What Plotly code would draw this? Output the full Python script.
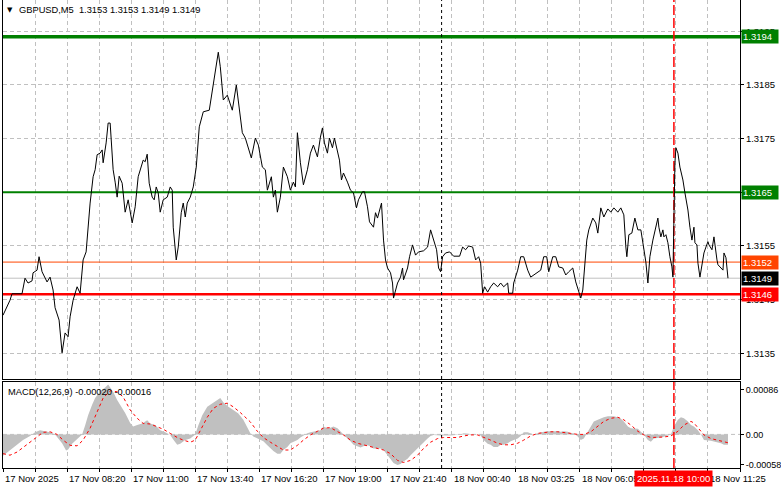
import plotly.graph_objects as go

# ---------------- data ----------------
price_bar = [0, 3.5, 4.5, 9.5, 11, 12.5, 14.5, 15, 17, 18, 19.5, 22, 23.5, 25, 26, 28, 29.5, 31, 32.5, 33.5,
             35, 37, 38.5, 40, 41.5, 42.5, 43.5, 45, 46, 47, 48.5, 49.5, 50, 51.5, 52.5, 53.5, 55, 56, 57, 58,
             59.5, 61, 62.5, 64.5, 66, 67.5, 70, 71, 72, 73, 74.5, 75.5, 76.5, 77.5, 78.5, 80, 82, 83.5, 84.5, 85,
             86.5, 87.5, 89, 90, 91, 92, 93.5, 95, 96.5, 98, 100, 103, 105, 107.5, 108.5, 110, 112, 114.5, 116.5, 117.5,
             118.5, 119.5, 121, 124, 126, 127.5, 129.5, 131, 132, 134, 135, 136, 137, 138.5, 140, 142, 143.5, 145, 146, 147,
             148.5, 150, 152, 153.5, 155, 157, 158.5, 159.5, 160.5, 162, 163, 164.5, 165.5, 167, 168, 169, 170, 172, 173.5, 175,
             176.5, 177.5, 179.5, 180.5, 182, 183, 185, 186, 187, 189, 190, 191, 192, 193.5, 194.5, 195, 197, 198.5, 199.5, 200,
             202, 203, 204.5, 206, 207.5, 210, 212, 213.5, 215, 216.5, 217.5, 218.5, 219.5, 221, 223, 225, 228, 229.5, 231, 232.5,
             234.5, 236, 237.5, 238.5, 239.5, 240.5, 242, 243.5, 245, 247, 248.5, 250, 252, 252.5, 254.5, 255, 257, 258.5, 260, 262,
             263.5, 265, 267, 268.5, 270, 271.5, 272.5, 274.5, 276, 277.5, 279.5, 281, 282.5, 284.5, 286, 287.5, 288.5, 289.5, 290.5, 291.5,
             292.5, 294.5, 296, 297, 298.5, 300, 302, 303.5, 305, 307, 308.5, 310, 311, 311.5, 312.5, 314, 315.5, 317, 318.5, 320,
             321, 322, 323, 324.5, 325.5, 327, 327.5, 328.5, 329.5, 330, 331, 332, 333, 334, 334.5, 335, 335.5, 336, 337, 338,
             339.5, 340.5, 342, 343, 344, 345, 345.5, 346.5, 347, 348, 349, 350, 351, 352, 352.5, 354, 355, 355.5, 356.5, 357,
             358.5, 359.5, 360, 361, 362]
price_close = [1.31421, 1.31449, 1.31461, 1.31461, 1.31490, 1.31481, 1.31485, 1.31500, 1.31505, 1.31530, 1.31502, 1.31483, 1.31492, 1.31468, 1.31435, 1.31412, 1.31351, 1.31388, 1.31381, 1.31418,
               1.31449, 1.31474, 1.31462, 1.31524, 1.31539, 1.31585, 1.31630, 1.31679, 1.31692, 1.31720, 1.31723, 1.31729, 1.31705, 1.31742, 1.31779, 1.31779, 1.31692, 1.31669, 1.31641, 1.31680,
               1.31667, 1.31613, 1.31636, 1.31593, 1.31623, 1.31679, 1.31710, 1.31707, 1.31721, 1.31667, 1.31641, 1.31636, 1.31660, 1.31649, 1.31613, 1.31636, 1.31641, 1.31660, 1.31654, 1.31585,
               1.31524, 1.31548, 1.31612, 1.31630, 1.31604, 1.31630, 1.31641, 1.31660, 1.31697, 1.31772, 1.31800, 1.31803, 1.31854, 1.31911, 1.31884, 1.31822, 1.31831, 1.31803, 1.31850, 1.31822,
               1.31790, 1.31761, 1.31751, 1.31714, 1.31751, 1.31738, 1.31697, 1.31692, 1.31654, 1.31679, 1.31641, 1.31654, 1.31613, 1.31641, 1.31697, 1.31679, 1.31654, 1.31669, 1.31660, 1.31761,
               1.31705, 1.31664, 1.31692, 1.31723, 1.31738, 1.31716, 1.31753, 1.31770, 1.31742, 1.31723, 1.31751, 1.31733, 1.31751, 1.31729, 1.31710, 1.31673, 1.31686, 1.31669, 1.31654, 1.31649,
               1.31621, 1.31636, 1.31651, 1.31651, 1.31623, 1.31595, 1.31585, 1.31612, 1.31602, 1.31630, 1.31561, 1.31524, 1.31509, 1.31500, 1.31481, 1.31453, 1.31481, 1.31492, 1.31509, 1.31487,
               1.31509, 1.31530, 1.31552, 1.31533, 1.31539, 1.31541, 1.31548, 1.31580, 1.31561, 1.31543, 1.31509, 1.31502, 1.31530, 1.31537, 1.31539, 1.31531, 1.31531, 1.31548, 1.31543, 1.31550,
               1.31548, 1.31524, 1.31530, 1.31518, 1.31462, 1.31474, 1.31464, 1.31474, 1.31481, 1.31474, 1.31481, 1.31474, 1.31481, 1.31462, 1.31462, 1.31481, 1.31505, 1.31530, 1.31530, 1.31505,
               1.31492, 1.31496, 1.31500, 1.31505, 1.31530, 1.31530, 1.31502, 1.31530, 1.31530, 1.31511, 1.31509, 1.31496, 1.31502, 1.31509, 1.31483, 1.31464, 1.31453, 1.31468, 1.31511, 1.31561,
               1.31580, 1.31602, 1.31593, 1.31574, 1.31621, 1.31604, 1.31619, 1.31613, 1.31621, 1.31613, 1.31621, 1.31608, 1.31548, 1.31530, 1.31571, 1.31574, 1.31602, 1.31580, 1.31580, 1.31548,
               1.31520, 1.31481, 1.31530, 1.31561, 1.31580, 1.31602, 1.31585, 1.31567, 1.31580, 1.31567, 1.31571, 1.31556, 1.31530, 1.31511, 1.31492, 1.31612, 1.31705, 1.31733, 1.31723, 1.31697,
               1.31673, 1.31649, 1.31617, 1.31585, 1.31561, 1.31585, 1.31556, 1.31552, 1.31518, 1.31492, 1.31515, 1.31537, 1.31548, 1.31558, 1.31552, 1.31543, 1.31567, 1.31548, 1.31524, 1.31515,
               1.31509, 1.31505, 1.31537, 1.31528, 1.31490]

hist_bar = [0, 3.5, 7, 10, 13.5, 16, 18.5, 21, 23.5, 26, 27.5, 29.5, 31.5, 32.5, 34.5, 37, 39.5, 41, 42.5, 44.5,
            46, 48.5, 51, 52.5, 55, 57, 58.5, 61, 63.5, 65, 67, 69.5, 72, 73.5, 76, 78.5, 81, 83.5, 85, 87,
            88.5, 91, 93.5, 96, 97.5, 99.5, 102, 104.5, 107, 108.5, 110, 112.5, 115, 117.5, 120, 122, 123.5, 125, 127, 130,
            132, 133.5, 135, 137, 138.5, 140, 142, 143.5, 145, 147, 148.5, 150, 152, 153.5, 155, 157, 158.5, 160, 162, 163.5,
            165, 167, 168.5, 170, 172, 173.5, 175, 177, 178.5, 180, 182, 183.5, 185, 187, 188.5, 190, 192, 193.5, 195, 197,
            198.5, 200, 202, 203.5, 205, 207, 208.5, 210, 212, 213.5, 215, 218.5, 223.5, 228.5, 230, 233.5, 237, 238.5, 240, 242,
            243.5, 245, 247, 248.5, 250, 252, 253.5, 255, 257, 258.5, 260, 262, 263.5, 265, 267, 268.5, 270, 272, 273.5, 275,
            277, 278.5, 280, 282, 283.5, 285, 287, 288.5, 290, 292, 293.5, 295, 297, 298.5, 300, 302, 305, 307, 308.5, 310,
            312, 313.5, 317, 318.5, 320, 322, 323.5, 325, 328.5, 332, 333.5, 335, 337, 338.5, 340, 342, 343.5, 345, 347, 348.5,
            350, 353.5, 357, 358.5, 360, 362]
hist_val = [-0.00041, -0.00031, -0.00021, -0.00011, -0.00003, 0.00004, 0.00008, 0.00006, 0.00004, 0.0, -0.00008, -0.00017, -0.00031, -0.00029, -0.00018, -0.00009, 0.0, 0.00017, 0.00037, 0.00057,
            0.00070, 0.00083, 0.00090, 0.00096, 0.00082, 0.00066, 0.00057, 0.00041, 0.00022, 0.00015, 0.00018, 0.00021, 0.00027, 0.00021, 0.00018, 0.00008, 0.00004, -0.00001, -0.00010, -0.00020,
            -0.00018, -0.00011, -0.00008, 0.0, 0.00017, 0.00037, 0.00053, 0.00060, 0.00066, 0.00070, 0.00062, 0.00053, 0.00047, 0.00040, 0.00028, 0.00012, 0.00002, -0.00004, -0.00008, -0.00013,
            -0.00021, -0.00027, -0.00032, -0.00037, -0.00037, -0.00030, -0.00024, -0.00017, -0.00014, -0.00011, -0.00006, -0.00002, 0.00002, 0.00004, 0.00005, 0.00006, 0.00008, 0.00015, 0.00012, 0.00013,
            0.00015, 0.00012, 0.00005, 0.0, -0.00008, -0.00013, -0.00020, -0.00023, -0.00025, -0.00023, -0.00021, -0.00023, -0.00027, -0.00027, -0.00027, -0.00030, -0.00040, -0.00047, -0.00055, -0.00059,
            -0.00057, -0.00052, -0.00047, -0.00040, -0.00034, -0.00027, -0.00021, -0.00014, -0.00008, -0.00003, -0.00001, -0.00002, -0.00002, 0.0, 0.00002, 0.00001, 0.0, -0.00002, -0.00011, -0.00018,
            -0.00020, -0.00024, -0.00024, -0.00020, -0.00020, -0.00017, -0.00013, -0.00011, -0.00008, -0.00003, 0.00004, 0.00004, 0.00002, 0.0, 0.00002, 0.00004, 0.00005, 0.00006, 0.00006, 0.00007,
            0.00006, 0.00005, 0.00006, 0.00005, 0.00002, 0.00002, -0.00004, -0.00011, -0.00008, 0.00005, 0.00015, 0.00025, 0.00028, 0.00031, 0.00033, 0.00035, 0.00035, 0.00033, 0.00030, 0.00025,
            0.00015, 0.00012, 0.00011, 0.00005, 0.0, -0.00011, -0.00014, -0.00008, -0.00006, -0.00002, 0.0, 0.00015, 0.00028, 0.00033, 0.00031, 0.00025, 0.00018, 0.00015, 0.00008, 0.0,
            -0.00011, -0.00012, -0.00015, -0.00017, -0.00020, -0.00020]

sig_bar = [0, 3.5, 7, 10, 13.5, 17, 20, 23.5, 27, 30, 33.5, 37, 40, 43.5, 47, 50, 53.5, 57, 60, 63.5,
           67, 70, 73.5, 77, 80, 83.5, 87, 90, 93.5, 96, 98.5, 102, 105, 108.5, 112, 115, 118.5, 122, 123.5, 127,
           130, 133.5, 137, 140, 143.5, 147, 150, 153.5, 157, 160, 163.5, 167, 170, 173.5, 177, 180, 183.5, 187, 190, 193.5,
           197, 200, 203.5, 207, 210, 213.5, 217, 220, 223.5, 227, 230, 233.5, 237, 240, 243.5, 247, 250, 253.5, 257, 260,
           263.5, 267, 270, 273.5, 277, 280, 283.5, 287, 290, 293.5, 297, 300, 303.5, 307, 310, 313.5, 317, 320, 323.5, 327,
           330, 333.5, 337, 340, 343.5, 345, 347, 350, 353.5, 357, 360, 362]
sig_val = [-0.00037, -0.00040, -0.00034, -0.00025, -0.00015, -0.00004, 0.00004, 0.00005, 0.0, -0.00011, -0.00021, -0.00022, -0.00011, 0.00012, 0.00043, 0.00070, 0.00084, 0.00082, 0.00072, 0.00047,
           0.00031, 0.00021, 0.00020, 0.00014, 0.00010, 0.00002, -0.00006, -0.00011, -0.00015, -0.00011, 0.00008, 0.00033, 0.00050, 0.00058, 0.00060, 0.00053, 0.00042, 0.00030, 0.00024, 0.00006,
           -0.00006, -0.00015, -0.00024, -0.00030, -0.00030, -0.00021, -0.00011, -0.00001, 0.00006, 0.00012, 0.00013, 0.00005, -0.00001, -0.00011, -0.00017, -0.00020, -0.00023, -0.00027, -0.00030, -0.00037,
           -0.00050, -0.00054, -0.00050, -0.00040, -0.00027, -0.00015, -0.00008, -0.00006, -0.00006, -0.00006, -0.00003, -0.00001, -0.00001, -0.00005, -0.00011, -0.00017, -0.00020, -0.00020, -0.00017, -0.00011,
           -0.00003, 0.00002, 0.00004, 0.00005, 0.00005, 0.00004, 0.00002, 0.0, 0.0, 0.00005, 0.00015, 0.00025, 0.00031, 0.00033, 0.00028, 0.00018, 0.00006, -0.00001, -0.00006, -0.00006,
           -0.00005, -0.00003, 0.00006, 0.00018, 0.00025, 0.00022, 0.00013, -0.00001, -0.00008, -0.00011, -0.00014, -0.00016]

grid_bars = [16 * k for k in range(24)]
label_bars = [0, 32, 64, 96, 128, 160, 192, 224, 256, 288, 352]
label_texts = ["17 Nov 2025", "17 Nov 08:20", "17 Nov 11:00", "17 Nov 13:40", "17 Nov 16:20", "17 Nov 19:00",
               "17 Nov 21:40", "18 Nov 00:40", "18 Nov 03:25", "18 Nov 06:05", "18 Nov 11:25"]
price_ticks = [1.3195, 1.3185, 1.3175, 1.3165, 1.3155, 1.3145, 1.3135]
macd_ticks = [0.00086, 0.0, -0.00058]
macd_tick_text = ["0.00086", "0.00", "-0.00058"]

level_top = 1.3194
level_mid = 1.3165
level_low = 1.3146
level_ask = 1.3152
level_bid = 1.3149
day_sep_bar = 219
marker_bar = 335
marker_text = "2025.11.18 10:00"
title_text = "GBPUSD,M5&nbsp;&nbsp;1.3153 1.3153 1.3149 1.3149"
macd_text = "MACD(12,26,9) -0.00020 -0.00016"
x_range = [0, 368]
price_range = [1.313022, 1.320083]
macd_range = [-0.000646, 0.001008]

# ---------------- figure ----------------
FONT = "Liberation Sans, Arial, sans-serif"
FS = 9.5
GRID = "#C0C0C0"


def hline(val, col, w, xa="x", ya="y", dash=None):
    return go.Scatter(x=x_range, y=[val, val], mode="lines", xaxis=xa, yaxis=ya, hoverinfo="skip",
                      line=dict(color=col, width=w, dash=dash))


def vline(bar, rng, col, w, dash, xa, ya):
    return go.Scatter(x=[bar, bar], y=rng, mode="lines", xaxis=xa, yaxis=ya, hoverinfo="skip",
                      line=dict(color=col, width=w, dash=dash))


fig = go.Figure()
# MACD panel
fig.add_trace(hline(0, GRID, 1, "x2", "y2", "4px,3px"))
fig.add_trace(go.Scatter(x=hist_bar, y=hist_val, mode="lines", fill="tozeroy", fillcolor="#C0C0C0",
                         line=dict(width=0, color="#C0C0C0"), xaxis="x2", yaxis="y2", hoverinfo="skip"))
fig.add_trace(vline(day_sep_bar, macd_range, "#000000", 1, "3px,3px", "x2", "y2"))
fig.add_trace(vline(marker_bar, macd_range, "#FF0000", 1.5, "10px,3px", "x2", "y2"))
fig.add_trace(go.Scatter(x=sig_bar, y=sig_val, mode="lines", line=dict(color="#FF0000", width=1, dash="3px,3px"),
                         xaxis="x2", yaxis="y2", hoverinfo="skip"))
# main panel level lines
for val, col, w in [(level_bid, "#C0C0C0", 1), (level_ask, "#FF4500", 1), (level_low, "#FF0000", 2.5),
                    (level_mid, "#008000", 2), (level_top, "#008000", 3.5)]:
    fig.add_trace(hline(val, col, w))
fig.add_trace(vline(day_sep_bar, price_range, "#000000", 1, "3px,3px", "x", "y"))
fig.add_trace(vline(marker_bar, price_range, "#FF0000", 1.5, "10px,3px", "x", "y"))
fig.add_trace(go.Scatter(x=price_bar, y=price_close, mode="lines", line=dict(color="#000000", width=1),
                         xaxis="x", yaxis="y", hoverinfo="skip"))

xcommon = dict(range=x_range, tickvals=grid_bars, showticklabels=False, showgrid=True, gridcolor=GRID,
               griddash="4px,3px", gridwidth=1, zeroline=False, showline=True, linecolor="#000000", linewidth=1)
fig.update_layout(
    width=781, height=489,
    margin=dict(l=3, r=41, t=0, b=21, autoexpand=False),
    paper_bgcolor="white", plot_bgcolor="white",
    showlegend=False,
    font=dict(family=FONT, size=FS, color="#000000"),
    xaxis=dict(domain=[0, 1], anchor="y", ticks="", mirror=False, **xcommon),
    xaxis2=dict(domain=[0, 1], anchor="y2", matches="x", ticks="outside", ticklen=3, tickcolor="#000000",
                mirror=True, **xcommon),
    yaxis=dict(domain=[0.1902, 1], anchor="x", side="right", range=price_range,
               tickvals=price_ticks, ticktext=[f"{v:.4f}" for v in price_ticks],
               showgrid=True, gridcolor=GRID, griddash="4px,3px", zeroline=False,
               showline=True, mirror=True, linecolor="#000000", linewidth=1,
               ticks="outside", ticklen=3, tickcolor="#000000", tickfont=dict(size=FS)),
    yaxis2=dict(domain=[0, 0.1838], anchor="x2", side="right", range=macd_range,
                tickvals=macd_ticks, ticktext=macd_tick_text, showgrid=False, zeroline=False,
                showline=True, mirror=True, linecolor="#000000", linewidth=1,
                ticks="outside", ticklen=3, tickcolor="#000000", tickfont=dict(size=9)),
)

ann = []
for b, t in zip(label_bars, label_texts):
    ann.append(dict(x=b, xref="x2", y=0, yref="paper", yanchor="middle", yshift=-10, xanchor="left",
                    text=t, showarrow=False, font=dict(size=FS, family=FONT, color="#000000")))
ann.append(dict(x=marker_bar, xref="x2", y=0, yref="paper", yanchor="middle", yshift=-10, xanchor="center",
                text=marker_text, showarrow=False, bgcolor="#FF0000", borderpad=2,
                font=dict(size=FS, family=FONT, color="#FFFFFF")))
for val, col in [(level_top, "#008000"), (level_mid, "#008000"), (level_ask, "#FF4500"),
                 (level_bid, "#000000"), (level_low, "#FF0000")]:
    ann.append(dict(x=1, xref="paper", xanchor="left", xshift=1, y=val, yref="y", yanchor="middle",
                    text=f"{val:.4f}", showarrow=False, bgcolor=col, borderpad=1, width=34, align="left",
                    font=dict(size=FS, family=FONT, color="#FFFFFF")))
ann.append(dict(x=0, xref="paper", y=1, yref="paper", xanchor="left", yanchor="top", xshift=2, yshift=-4,
                text="\u25BC", showarrow=False, font=dict(size=7, family="DejaVu Sans", color="#000000")))
ann.append(dict(x=0, xref="paper", y=1, yref="paper", xanchor="left", yanchor="top", xshift=14, yshift=-3,
                text=title_text, showarrow=False, font=dict(size=9.3, family=FONT, color="#000000")))
ann.append(dict(x=0, xref="paper", y=0.1838, yref="paper", xanchor="left", yanchor="top", xshift=3, yshift=-3,
                text=macd_text, showarrow=False, font=dict(size=9.3, family=FONT, color="#000000")))
fig.update_layout(annotations=ann)

fig.write_html("out.html", config={"displayModeBar": False},
               post_script="document.body.style.margin='0';document.body.style.padding='0';")
